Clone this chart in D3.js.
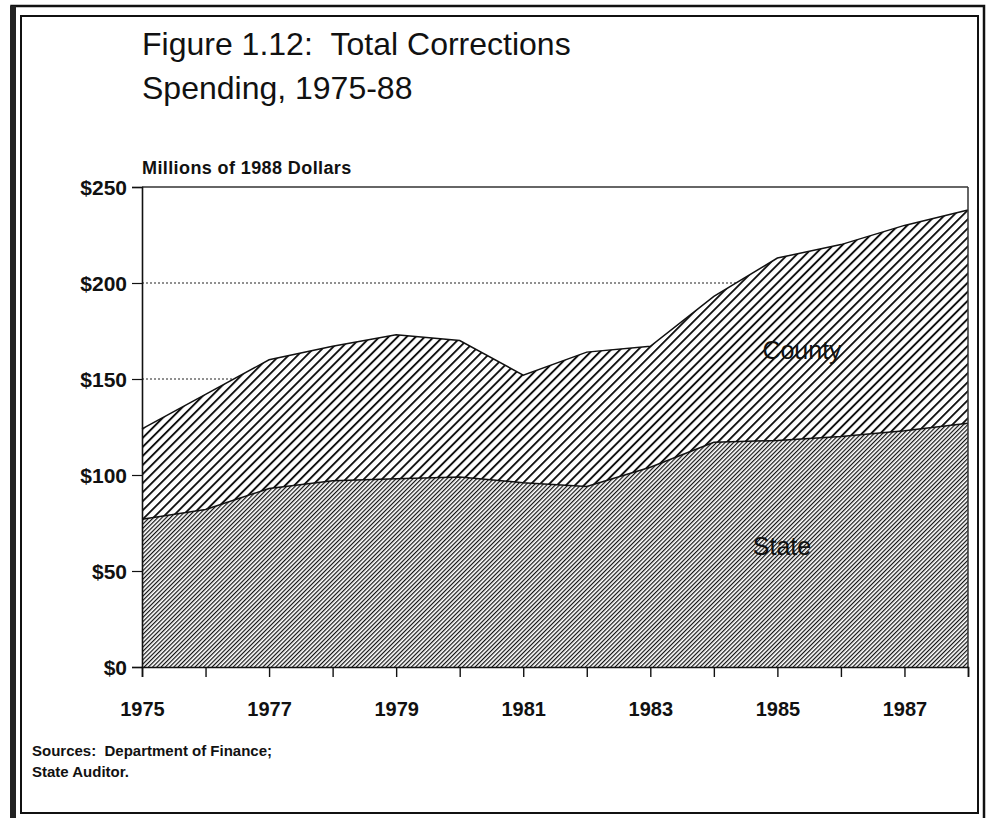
<!DOCTYPE html>
<html>
<head>
<meta charset="utf-8">
<script src="https://cdn.jsdelivr.net/npm/d3@7"></script>
<style>
  html, body { margin: 0; padding: 0; background: #fff; }
  svg { display: block; }
  text { font-family: "Liberation Sans", Arial, Helvetica, sans-serif; fill: #111; }
</style>
</head>
<body>
<svg id="chart" width="986" height="818"></svg>
<script>
// ---- data ----
const years = [1975, 1976, 1977, 1978, 1979, 1980, 1981, 1982, 1983, 1984, 1985, 1986, 1987, 1988];
const stateValues  = [77, 82, 93, 97, 98, 99, 96, 94, 104, 117, 118, 120, 123, 127];
const countyValues = [47, 60, 67, 70, 75, 71, 56, 70, 63, 76, 95, 100, 107, 111];
const seriesNames = ["State", "County"];
const xTickYears = [1975, 1976, 1977, 1978, 1979, 1980, 1981, 1982, 1983, 1984, 1985, 1986, 1987, 1988];
const xTickLabels = ["1975", "1977", "1979", "1981", "1983", "1985", "1987"];
const yTickValues = [0, 50, 100, 150, 200, 250];
const yTickLabels = ["$0", "$50", "$100", "$150", "$200", "$250"];
const gridValues = [50, 100, 150, 200];

const rows = years.map((yr, i) => ({ year: yr, State: stateValues[i], County: countyValues[i] }));

const svg = d3.select("#chart");

// ---- frame ----
svg.append("rect").attr("x", 0).attr("y", 0).attr("width", 986).attr("height", 818).attr("fill", "#fff");
svg.append("rect").attr("x", 11.5).attr("y", 6).attr("width", 972.5).attr("height", 830)
  .attr("fill", "none").attr("stroke", "#111").attr("stroke-width", 2.5);
svg.append("rect").attr("x", 10).attr("y", 6).attr("width", 6).attr("height", 830).attr("fill", "#222");
svg.append("rect").attr("x", 21).attr("y", 16).attr("width", 957).attr("height", 797)
  .attr("fill", "none").attr("stroke", "#111").attr("stroke-width", 2);

// ---- patterns ----
const defs = svg.append("defs");
function hatch(id, spacing, thick) {
  const p = defs.append("pattern").attr("id", id)
    .attr("patternUnits", "userSpaceOnUse")
    .attr("width", spacing).attr("height", 20)
    .attr("patternTransform", "rotate(45)");
  p.append("rect").attr("width", spacing).attr("height", 20).attr("fill", "#fff");
  p.append("rect").attr("x", 0).attr("y", 0).attr("width", thick).attr("height", 20).attr("fill", "#111");
}
hatch("hatchCounty", 6.4, 1.9);
hatch("hatchState", 3.0, 1.2);

// ---- scales ----
const x = d3.scaleLinear().domain([1975, 1988]).range([142, 968]);
const y = d3.scaleLinear().domain([0, 250]).range([667, 187]);

// ---- gridlines ----
svg.append("g").selectAll("line").data(gridValues).join("line")
  .attr("x1", x(1975)).attr("x2", x(1988))
  .attr("y1", d => y(d)).attr("y2", d => y(d))
  .attr("stroke", "#222").attr("stroke-width", 1.2).attr("stroke-dasharray", "2,2");

// ---- areas ----
const stack = d3.stack().keys(seriesNames);
const stacked = stack(rows);
const area = d3.area().x(d => x(d.data.year)).y0(d => y(d[0])).y1(d => y(d[1]));
const line = d3.line().x(d => x(d.data.year)).y(d => y(d[1]));
const fills = { State: "url(#hatchState)", County: "url(#hatchCounty)" };

svg.append("g").selectAll("path.area").data(stacked).join("path")
  .attr("class", "area")
  .attr("d", area)
  .attr("fill", d => fills[d.key]);
svg.append("g").selectAll("path.edge").data(stacked).join("path")
  .attr("class", "edge")
  .attr("d", line)
  .attr("fill", "none").attr("stroke", "#111").attr("stroke-width", 1.5);

// ---- plot frame (top & right) ----
svg.append("line").attr("x1", x(1975)).attr("x2", x(1988)).attr("y1", y(250)).attr("y2", y(250))
  .attr("stroke", "#333").attr("stroke-width", 1.5);
svg.append("line").attr("x1", x(1988)).attr("x2", x(1988)).attr("y1", y(250)).attr("y2", y(0))
  .attr("stroke", "#333").attr("stroke-width", 1.5);

// ---- axes ----
const yAxis = d3.axisLeft(y).tickValues(yTickValues)
  .tickFormat((d, i) => yTickLabels[i]).tickSize(10).tickPadding(5);
const gy = svg.append("g").attr("transform", `translate(${x(1975)},0)`).call(yAxis);
gy.select(".domain").attr("stroke", "#111").attr("stroke-width", 1.6);
gy.selectAll(".tick line").attr("stroke", "#111").attr("stroke-width", 1.2);
gy.selectAll(".tick text").style("font-size", "21px").style("font-weight", "bold")
  .attr("fill", "#111").attr("dy", "0.38em");

const xAxis = d3.axisBottom(x).tickValues(xTickYears)
  .tickFormat(d => xTickLabels.includes(String(d)) ? String(d) : "")
  .tickSize(10).tickPadding(25);
const gx = svg.append("g").attr("transform", `translate(0,${y(0)})`).call(xAxis);
gx.select(".domain").attr("stroke", "#111").attr("stroke-width", 1.6);
gx.selectAll(".tick line").attr("stroke", "#111").attr("stroke-width", 1.4);
gx.selectAll(".tick text").style("font-size", "20px").style("font-weight", "bold").attr("fill", "#111");

// ---- series labels ----
svg.append("text").attr("x", 802).attr("y", 359).attr("text-anchor", "middle")
  .style("font-size", "25px").text("County");
svg.append("text").attr("x", 782).attr("y", 555).attr("text-anchor", "middle")
  .style("font-size", "25px").text("State");

// ---- titles ----
svg.append("text").attr("x", 142).attr("y", 55).style("font-size", "32px")
  .text("Figure 1.12:\u00a0\u00a0Total Corrections");
svg.append("text").attr("x", 142).attr("y", 99).style("font-size", "32px")
  .text("Spending, 1975-88");
svg.append("text").attr("x", 142).attr("y", 174).style("font-size", "18px").style("font-weight", "bold")
  .style("letter-spacing", "0.4px")
  .text("Millions of 1988 Dollars");

// ---- sources ----
svg.append("text").attr("x", 32).attr("y", 756).style("font-size", "15px").style("font-weight", "bold")
  .text("Sources:\u00a0\u00a0Department of Finance;");
svg.append("text").attr("x", 32).attr("y", 777).style("font-size", "15px").style("font-weight", "bold")
  .text("State Auditor.");
</script>
</body>
</html>
